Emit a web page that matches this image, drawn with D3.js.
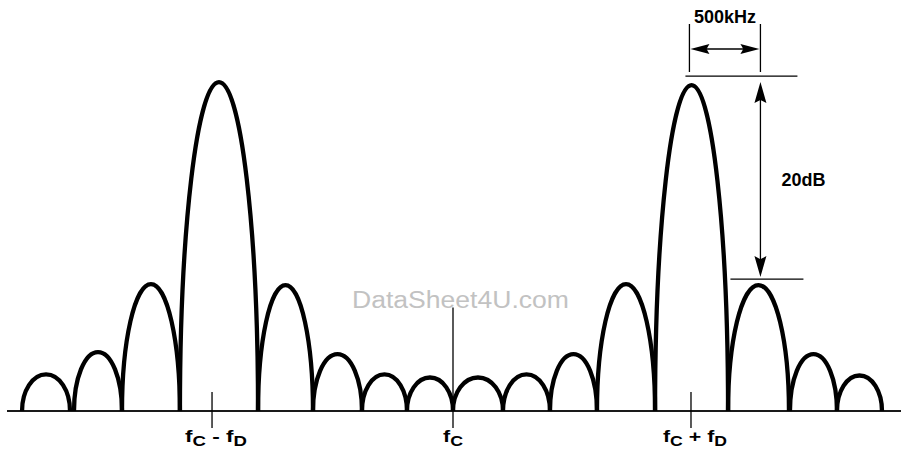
<!DOCTYPE html>
<html>
<head>
<meta charset="utf-8">
<script src="https://cdn.jsdelivr.net/npm/d3@7/dist/d3.min.js"></script>
<style>
	body { margin: 0; background: #fff; }
	text { font-family: 'Liberation Sans', Arial, Helvetica, sans-serif; }
</style>
</head>
<body>
<div id="chart"></div>
<script>
// lobe edges in kHz from the carrier, peak level in dB above the floor
const lobeStart = [-3035, -2669, -2331, -1923, -1373, -986, -641, -324, 0, 352, 683, 1014, 1423, 1937, 2373, 2704];
const lobeEnd = [-2697, -2331, -1923, -1373, -986, -641, -324, 0, 352, 683, 1014, 1423, 1937, 2366, 2704, 3021];
const lobePeak = [3.6, 5.8, 12.5, 32.4, 12.4, 5.6, 3.6, 3.3, 3.3, 3.6, 5.6, 12.5, 32.1, 12.4, 5.6, 3.5];

// frequency marks under the axis
const tickFreqs = [-1697, 0, 1676];
const tickLabels = ['fC - fD', 'fC', 'fC + fD'];
const centerLineDb = 10.2;

// dimension annotations
const spanKHz = [1665, 2165];
const spanLabel = '500kHz';
const levelDb = [33, 13];
const levelLabel = '20dB';

const watermark = 'DataSheet4U.com';

class Spectrum {
	constructor(_config) {
		this.config = {
			parentElement: _config.parentElement,
			containerWidth: _config.containerWidth || 901,
			containerHeight: _config.containerHeight || 457,
		};
		this.initVis();
	}

	initVis() {
		const vis = this;

		vis.svg = d3.select(vis.config.parentElement).append('svg')
			.attr('width', vis.config.containerWidth)
			.attr('height', vis.config.containerHeight);

		// 500kHz = 71px, 20dB = 203px
		vis.xScale = d3.scaleLinear().domain([0, 500]).range([453, 524]);
		vis.yScale = d3.scaleLinear().domain([0, 20]).range([411, 208]);

		vis.lobes = lobeStart.map((s, i) => ({ start: s, end: lobeEnd[i], peak: lobePeak[i] }));

		vis.renderVis();
	}

	lobePath(d) {
		const vis = this;
		const xa = vis.xScale(d.start);
		const xb = vis.xScale(d.end);
		const xm = (xa + xb) / 2;
		const w = xb - xa;
		const yb = vis.yScale(0);
		const yp = vis.yScale(d.peak);
		const h = yb - yp;

		const p = d3.path();
		p.moveTo(xa, yb);
		p.bezierCurveTo(xa, yb - 0.55 * h, xa + 0.22 * w, yp, xm, yp);
		p.bezierCurveTo(xb - 0.22 * w, yp, xb, yb - 0.55 * h, xb, yb);
		return p.toString();
	}

	arrowHead(g, x, y, dir, len, half) {
		// dir: unit vector the tip points to
		const [ux, uy] = dir;
		const px = -uy, py = ux;
		const bx = x - ux * len, by = y - uy * len;
		const nx = x - ux * len * 0.85, ny = y - uy * len * 0.85;
		g.append('path')
			.attr('d', `M${x},${y}L${bx + px * half},${by + py * half}L${nx},${ny}L${bx - px * half},${by - py * half}Z`)
			.attr('fill', '#000');
	}

	renderVis() {
		const vis = this;
		const x = vis.xScale, y = vis.yScale;
		const base = y(0);

		// watermark
		vis.svg.append('text')
			.attr('x', 352)
			.attr('y', 308)
			.attr('font-size', 23)
			.attr('fill', '#c2c2c2')
			.attr('textLength', 217)
			.attr('lengthAdjust', 'spacingAndGlyphs')
			.text(watermark);

		// floor line
		vis.svg.append('line')
			.attr('x1', 7).attr('x2', vis.config.containerWidth)
			.attr('y1', base).attr('y2', base)
			.attr('stroke', '#1a1a1a')
			.attr('stroke-width', 2);

		// frequency ticks
		vis.svg.selectAll('.tick-mark')
			.data(tickFreqs)
			.join('line')
			.attr('class', 'tick-mark')
			.attr('x1', d => x(d)).attr('x2', d => x(d))
			.attr('y1', d => d === 0 ? y(centerLineDb) : base - 19)
			.attr('y2', base + 17)
			.attr('stroke', '#000')
			.attr('stroke-width', 1.3);

		// lobes
		vis.svg.selectAll('.lobe')
			.data(vis.lobes)
			.join('path')
			.attr('class', 'lobe')
			.attr('d', d => vis.lobePath(d))
			.attr('fill', 'none')
			.attr('stroke', '#000')
			.attr('stroke-width', 4.3)
			.attr('stroke-linejoin', 'round');

		// tick labels with subscripts
		const labelWidths = [62, 20, 64];
		const labelShift = [4, 0, 4];
		tickLabels.forEach((lab, i) => {
			const t = vis.svg.append('text')
				.attr('x', x(tickFreqs[i]) + labelShift[i])
				.attr('y', 446)
				.attr('text-anchor', 'middle')
				.attr('font-weight', 'bold')
				.attr('font-size', 17)
				.attr('textLength', labelWidths[i])
				.attr('lengthAdjust', 'spacingAndGlyphs');
			lab.split(/([CD])/).filter(s => s.length).forEach(part => {
				const sub = part === 'C' || part === 'D';
				t.append('tspan')
					.attr('font-size', sub ? 14 : 17)
					.attr('dy', sub ? 4 : (t.selectAll('tspan').size() ? -4 : 0))
					.text(part);
			});
		});

		// 500kHz dimension
		const ann = vis.svg.append('g').attr('class', 'annotation');
		const xa = x(spanKHz[0]), xb = x(spanKHz[1]);
		[xa, xb].forEach(xx => {
			ann.append('line')
				.attr('x1', xx).attr('x2', xx)
				.attr('y1', 24).attr('y2', 72)
				.attr('stroke', '#000').attr('stroke-width', 1.3);
		});
		ann.append('line')
			.attr('x1', xa + 10).attr('x2', xb - 10)
			.attr('y1', 49).attr('y2', 49)
			.attr('stroke', '#000').attr('stroke-width', 1.3);
		vis.arrowHead(ann, xa + 1, 49, [-1, 0], 19, 5);
		vis.arrowHead(ann, xb - 1, 49, [1, 0], 19, 5);
		ann.append('text')
			.attr('x', (xa + xb) / 2)
			.attr('y', 23)
			.attr('text-anchor', 'middle')
			.attr('font-weight', 'bold')
			.attr('font-size', 18)
			.text(spanLabel);

		// 20dB dimension
		const yt = y(levelDb[0]), yl = y(levelDb[1]);
		ann.append('line')
			.attr('x1', xa - 4).attr('x2', xb + 37)
			.attr('y1', yt).attr('y2', yt)
			.attr('stroke', '#000').attr('stroke-width', 1.3);
		ann.append('line')
			.attr('x1', xb - 30).attr('x2', xb + 43)
			.attr('y1', yl).attr('y2', yl)
			.attr('stroke', '#000').attr('stroke-width', 1.3);
		ann.append('line')
			.attr('x1', xb).attr('x2', xb)
			.attr('y1', yt + 15).attr('y2', yl - 12)
			.attr('stroke', '#000').attr('stroke-width', 1.3);
		vis.arrowHead(ann, xb, yt + 6, [0, -1], 21, 6);
		vis.arrowHead(ann, xb, yl - 2, [0, 1], 21, 6);
		ann.append('text')
			.attr('x', xb + 21)
			.attr('y', (yt + yl) / 2 + 8.5)
			.attr('font-weight', 'bold')
			.attr('font-size', 18)
			.text(levelLabel);
	}
}

new Spectrum({ parentElement: '#chart' });
</script>
</body>
</html>
